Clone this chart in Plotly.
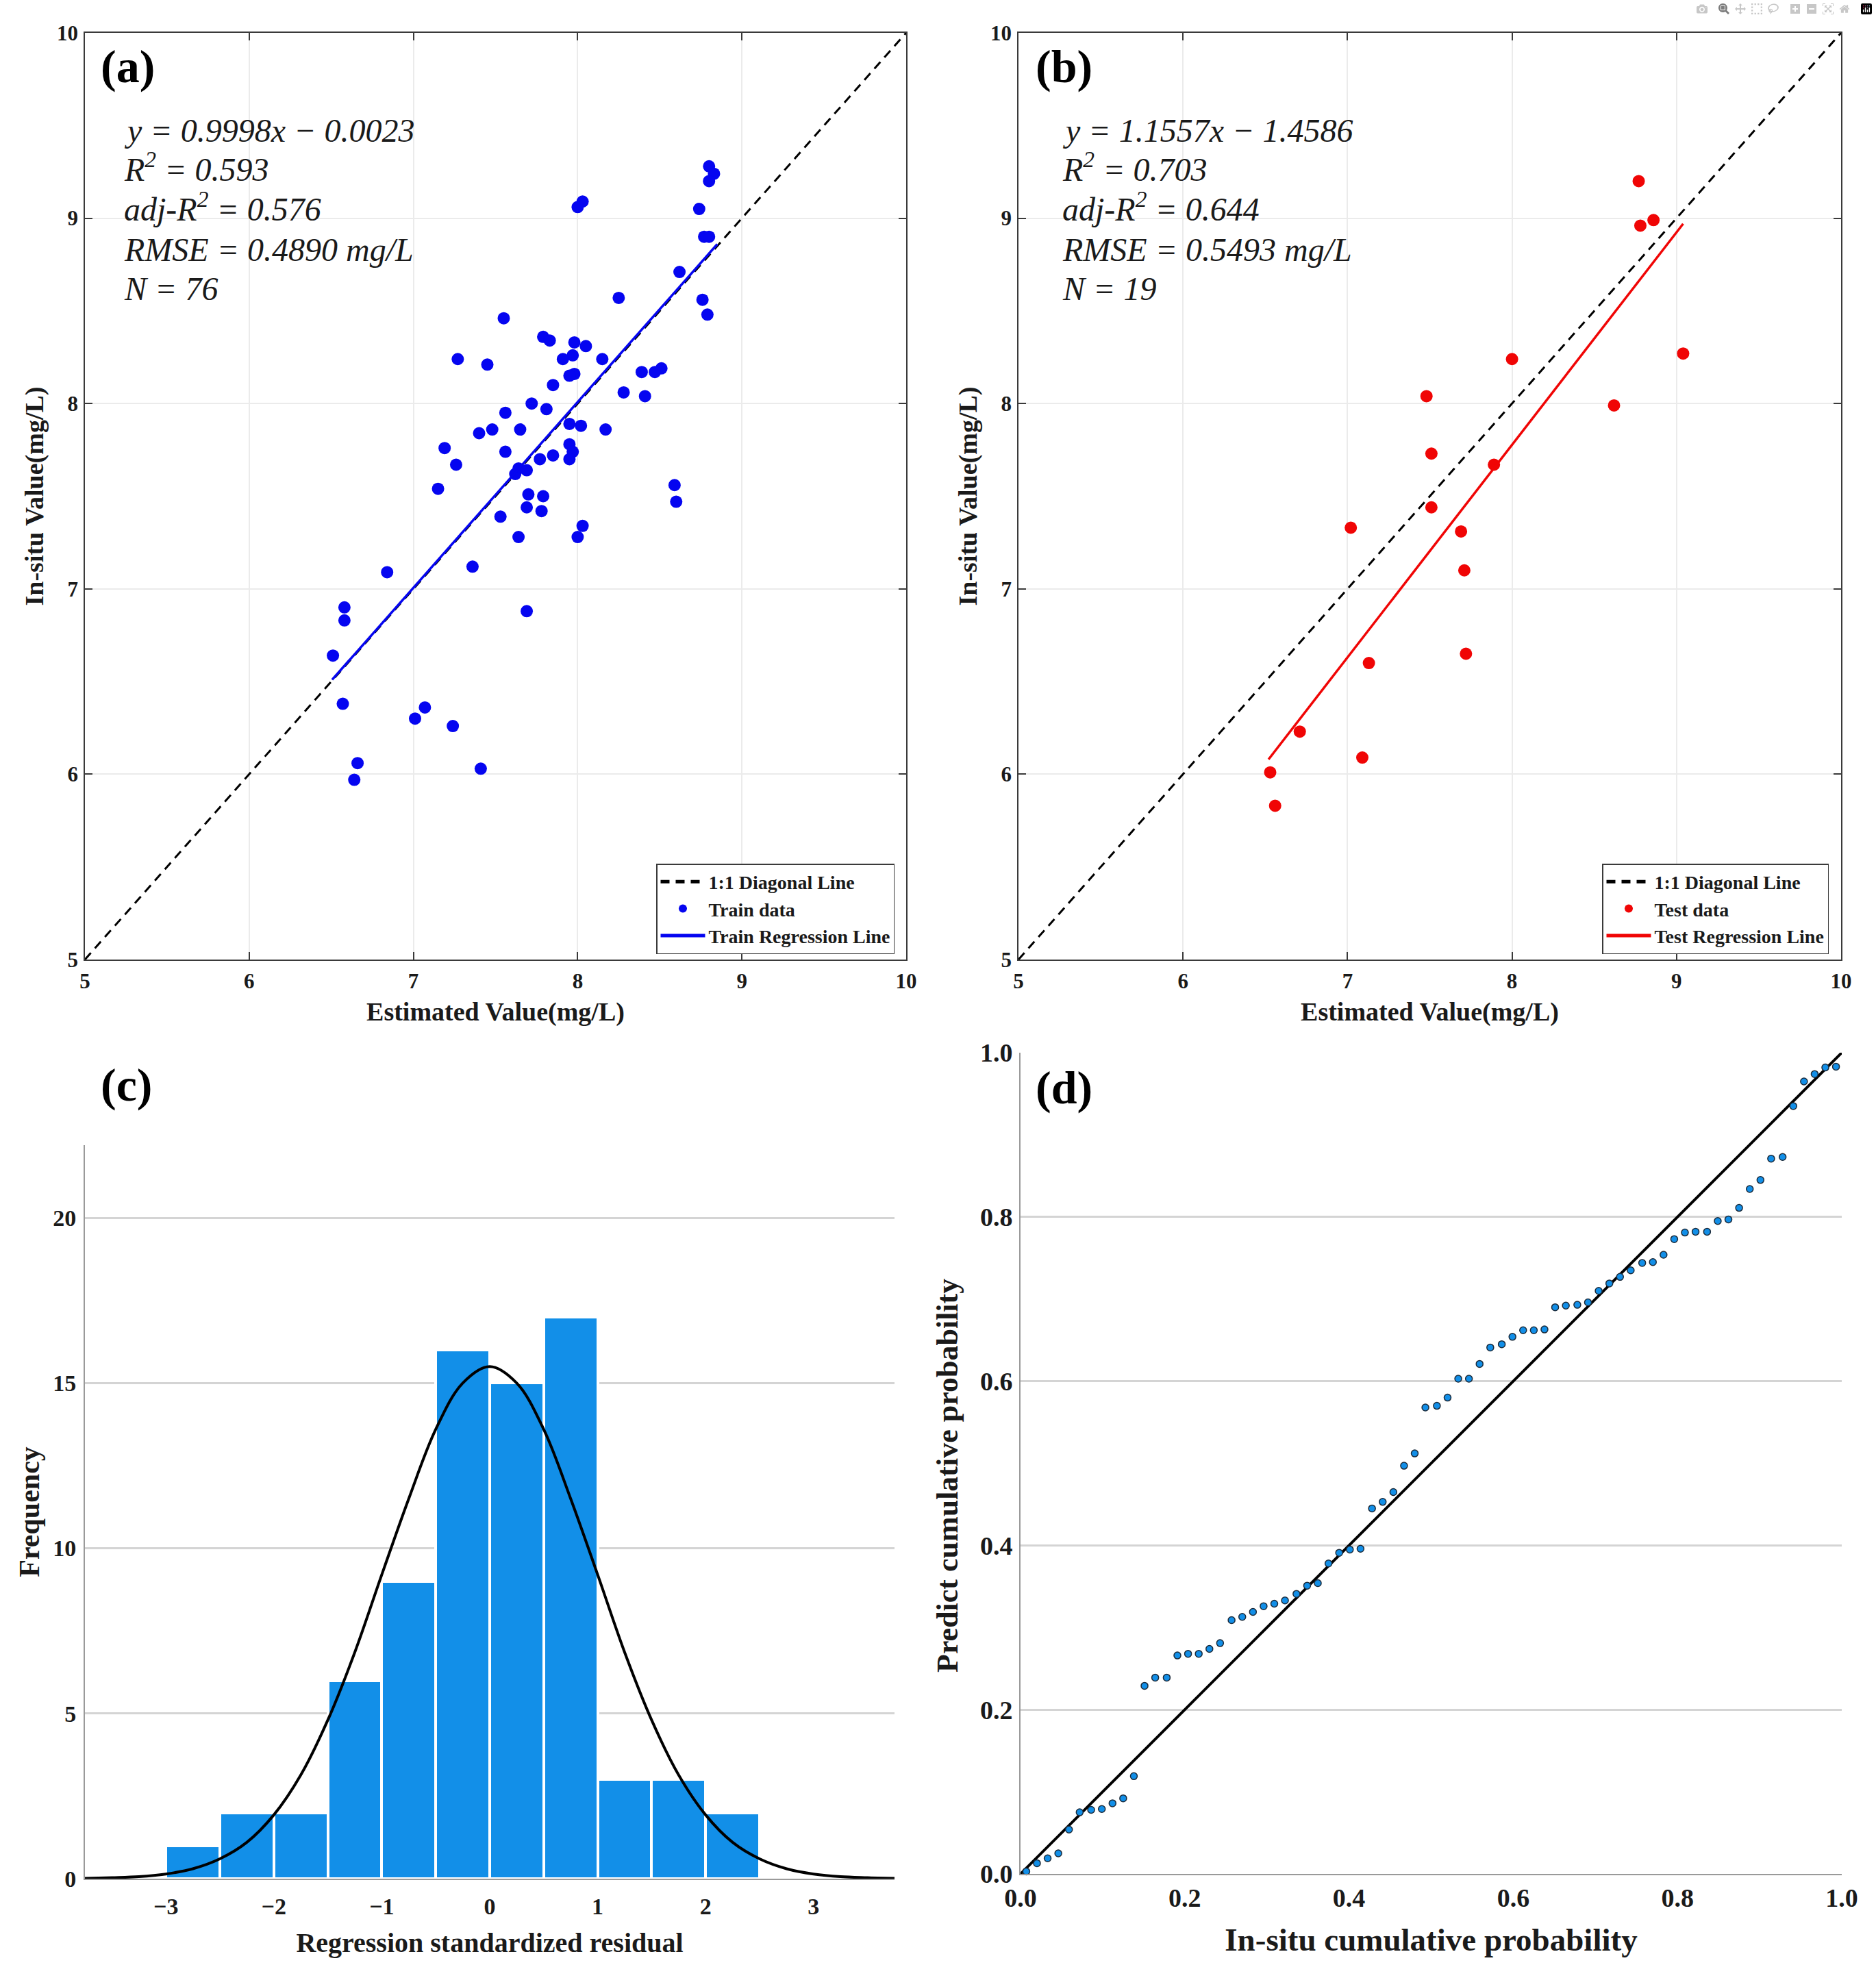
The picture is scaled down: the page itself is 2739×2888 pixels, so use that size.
import plotly.graph_objects as go

W, H = 2739, 2888

# Panel (a)
train_x = [8.80,8.83,8.80,8.74,8.03,8.00,8.77,8.80,8.62,8.76,8.25,8.79,7.55,7.79,7.83,7.98,8.05,7.97,7.91,7.27,8.15,7.45,8.51,8.47,8.39,7.98,7.95,7.85,8.28,8.41,7.72,7.81,7.56,7.95,8.02,7.65,7.48,8.17,7.40,7.95,7.97,7.19,7.56,7.85,7.77,7.95,7.26,7.64,7.69,7.62,7.15,8.59,7.70,7.79,8.60,7.69,7.78,7.53,8.03,7.64,8.00,7.36,6.84,6.58,7.69,6.58,6.51,6.57,7.07,7.01,7.24,6.66,7.41,6.64]
train_y = [9.28,9.24,9.20,9.05,9.09,9.06,8.90,8.90,8.71,8.56,8.57,8.48,8.46,8.36,8.34,8.33,8.31,8.26,8.24,8.24,8.24,8.21,8.19,8.17,8.17,8.16,8.15,8.10,8.06,8.04,8.00,7.97,7.95,7.89,7.88,7.86,7.86,7.86,7.84,7.78,7.74,7.76,7.74,7.72,7.70,7.70,7.67,7.65,7.64,7.62,7.54,7.56,7.51,7.50,7.47,7.44,7.42,7.39,7.34,7.28,7.28,7.12,7.09,6.90,6.88,6.83,6.64,6.38,6.36,6.30,6.26,6.06,6.03,5.97]
train_line_x = [6.505, 8.85]
train_line_y = [6.51, 8.86]
train_text = ["y = 0.9998x − 0.0023", "R<sup>2</sup> = 0.593", "adj-R<sup>2</sup> = 0.576", "RMSE = 0.4890 mg/L", "N = 76"]

# Panel (b)
test_x = [8.77,8.78,8.86,9.04,8.00,8.62,7.48,7.51,7.89,7.51,7.02,7.69,7.71,7.72,7.13,6.71,7.09,6.53,6.56]
test_y = [9.20,8.96,8.99,8.27,8.24,7.99,8.04,7.73,7.67,7.44,7.33,7.31,7.10,6.65,6.60,6.23,6.09,6.01,5.83]
test_line_x = [6.52, 9.04]
test_line_y = [6.08, 8.97]
test_text = ["y = 1.1557x − 1.4586", "R<sup>2</sup> = 0.703", "adj-R<sup>2</sup> = 0.644", "RMSE = 0.5493 mg/L", "N = 19"]

diag_x = [5, 10]
diag_y = [5, 10]

# Panel (c)
hist_centers = [-2.75,-2.25,-1.75,-1.25,-0.75,-0.25,0.25,0.75,1.25,1.75,2.25]
hist_counts = [1,2,2,6,9,16,15,17,3,3,2]
curve_x = [-3.75,-3.5,-3.25,-3,-2.75,-2.5,-2.25,-2,-1.75,-1.5,-1.25,-1,-0.75,-0.5,-0.25,0,0.25,0.5,0.75,1,1.25,1.5,1.75,2,2.25,2.5,2.75,3,3.25,3.5,3.75]
curve_y = [0.01,0.03,0.06,0.14,0.3,0.6,1.1,1.93,3.14,4.8,6.85,9.2,11.5,13.6,15.0,15.5,15.0,13.6,11.5,9.2,6.85,4.8,3.14,1.93,1.1,0.6,0.3,0.14,0.06,0.03,0.01]

# Panel (d)
pp_x = [0.007,0.020,0.033,0.046,0.059,0.072,0.086,0.099,0.112,0.125,0.138,0.151,0.164,0.178,0.191,0.204,0.217,0.230,0.243,0.257,0.270,0.283,0.296,0.309,0.322,0.336,0.349,0.362,0.375,0.388,0.401,0.414,0.428,0.441,0.454,0.467,0.480,0.493,0.507,0.520,0.533,0.546,0.559,0.572,0.586,0.599,0.612,0.625,0.638,0.651,0.664,0.678,0.691,0.704,0.717,0.730,0.743,0.757,0.770,0.783,0.796,0.809,0.822,0.836,0.849,0.862,0.875,0.888,0.901,0.914,0.928,0.941,0.954,0.967,0.980,0.993]
pp_y = [0.003,0.013,0.019,0.025,0.054,0.075,0.078,0.079,0.086,0.092,0.119,0.229,0.239,0.239,0.266,0.268,0.268,0.274,0.281,0.309,0.313,0.319,0.326,0.329,0.333,0.341,0.351,0.354,0.378,0.391,0.395,0.396,0.445,0.453,0.465,0.497,0.512,0.568,0.570,0.580,0.603,0.603,0.621,0.641,0.645,0.654,0.662,0.662,0.663,0.690,0.692,0.693,0.696,0.710,0.719,0.727,0.735,0.744,0.745,0.754,0.773,0.781,0.782,0.782,0.795,0.797,0.811,0.834,0.845,0.871,0.873,0.935,0.965,0.974,0.982,0.983]
pp_line_x = [0, 1]
pp_line_y = [0, 1]

SERIF = "Liberation Serif"
BOLD = dict(family=SERIF, color="#1a1a1a", weight="bold")

def dom_x(a, b):
    return [a / W, b / W]

def dom_y(top, bottom):
    return [1 - bottom / H, 1 - top / H]

def px(x):
    return x / W

def py(y):
    return 1 - y / H

fig = go.Figure()

# (a)
fig.add_trace(go.Scatter(x=diag_x, y=diag_y, mode="lines", name="1:1 Diagonal Line", xaxis="x", yaxis="y", legend="legend",
                         line=dict(color="black", width=3, dash="13px,9px")))
fig.add_trace(go.Scatter(x=train_x, y=train_y, mode="markers", name="Train data", xaxis="x", yaxis="y", legend="legend",
                         marker=dict(color="#0505f0", size=18)))
fig.add_trace(go.Scatter(x=train_line_x, y=train_line_y, mode="lines", name="Train Regression Line", xaxis="x", yaxis="y", legend="legend",
                         line=dict(color="#0505f0", width=3.5)))
# (b)
fig.add_trace(go.Scatter(x=diag_x, y=diag_y, mode="lines", name="1:1 Diagonal Line", xaxis="x2", yaxis="y2", legend="legend2",
                         line=dict(color="black", width=3, dash="13px,9px")))
fig.add_trace(go.Scatter(x=test_x, y=test_y, mode="markers", name="Test data", xaxis="x2", yaxis="y2", legend="legend2",
                         marker=dict(color="#f00505", size=18)))
fig.add_trace(go.Scatter(x=test_line_x, y=test_line_y, mode="lines", name="Test Regression Line", xaxis="x2", yaxis="y2", legend="legend2",
                         line=dict(color="#f00505", width=3.5)))
# (c)
fig.add_trace(go.Bar(x=hist_centers, y=hist_counts, width=0.5, xaxis="x3", yaxis="y3", showlegend=False,
                     marker=dict(color="#128fe8", line=dict(color="white", width=4))))
fig.add_trace(go.Scatter(x=curve_x, y=curve_y, mode="lines", xaxis="x3", yaxis="y3", showlegend=False,
                         line=dict(color="black", width=4, shape="spline")))
# (d)
fig.add_trace(go.Scatter(x=pp_line_x, y=pp_line_y, mode="lines", xaxis="x4", yaxis="y4", showlegend=False,
                         line=dict(color="black", width=4), cliponaxis=False))
fig.add_trace(go.Scatter(x=pp_x, y=pp_y, mode="markers", xaxis="x4", yaxis="y4", showlegend=False, cliponaxis=False,
                         marker=dict(color="#128fe8", size=10, line=dict(color="#1a2a3a", width=1.5))))

def scatter_axis(domain, anchor, title, standoff, label_gap):
    return dict(domain=domain, anchor=anchor, range=[5, 10], tickvals=[5, 6, 7, 8, 9, 10], automargin=False,
                showline=True, linecolor="#3a3a3a", linewidth=1.5, mirror="ticks",
                ticks="inside", ticklen=11, tickwidth=1.5, tickcolor="#3a3a3a",
                showgrid=True, gridcolor="#ebebeb", gridwidth=1.5, zeroline=False,
                tickfont=dict(size=31, **BOLD), ticklabelstandoff=label_gap,
                title=dict(text=title, font=dict(size=38, **BOLD), standoff=standoff))

legend_common = dict(bgcolor="white", bordercolor="#3a3a3a", borderwidth=1.5, xanchor="right", yanchor="middle",
                     font=dict(size=28, **BOLD), itemwidth=65, itemsizing="constant", tracegroupgap=0,
                     traceorder="normal", entrywidthmode="pixels")

fig.update_layout(
    width=W, height=H, margin=dict(l=0, r=0, t=0, b=0),
    paper_bgcolor="white", plot_bgcolor="white", bargap=0,
    font=dict(family=SERIF, color="#1a1a1a"),
    xaxis=scatter_axis(dom_x(124, 1323), "y", "Estimated Value(mg/L)", 14, 3),
    yaxis=scatter_axis(dom_y(48, 1401), "x", "In-situ Value(mg/L)", 8, 2),
    xaxis2=scatter_axis(dom_x(1487, 2688), "y2", "Estimated Value(mg/L)", 14, 3),
    yaxis2=scatter_axis(dom_y(48, 1401), "x2", "In-situ Value(mg/L)", 8, 2),
    xaxis3=dict(domain=dom_x(124, 1306), anchor="y3", range=[-3.75, 3.75], tickvals=[-3, -2, -1, 0, 1, 2, 3], automargin=False,
                showline=True, linecolor="#9a9a9a", linewidth=2, showgrid=False, zeroline=False, ticks="",
                tickfont=dict(size=34, **BOLD), ticklabelstandoff=9,
                title=dict(text="Regression standardized residual", font=dict(size=40, **BOLD), standoff=21)),
    yaxis3=dict(domain=dom_y(1672, 2743), anchor="x3", range=[0, 22.2], tickvals=[0, 5, 10, 15, 20], automargin=False,
                showline=True, linecolor="#9a9a9a", linewidth=2, showgrid=True, gridcolor="#d4d4d4", gridwidth=2.5,
                zeroline=False, ticks="", tickfont=dict(size=34, **BOLD), ticklabelstandoff=4,
                title=dict(text="Frequency", font=dict(size=42, **BOLD), standoff=7)),
    xaxis4=dict(domain=dom_x(1490, 2689), anchor="y4", range=[0, 1], tickvals=[0, 0.2, 0.4, 0.6, 0.8, 1.0], automargin=False,
                tickformat=".1f", showline=True, linecolor="#9a9a9a", linewidth=2, showgrid=False, zeroline=False,
                ticks="", tickfont=dict(size=38, **BOLD), ticklabelstandoff=0,
                title=dict(text="In-situ cumulative probability", font=dict(size=47, **BOLD), standoff=24)),
    yaxis4=dict(domain=dom_y(1537, 2736), anchor="x4", range=[0, 1], tickvals=[0, 0.2, 0.4, 0.6, 0.8, 1.0], automargin=False,
                tickformat=".1f", showline=True, linecolor="#9a9a9a", linewidth=2, showgrid=True, gridcolor="#d4d4d4",
                gridwidth=2.5, zeroline=False, ticks="", tickfont=dict(size=38, **BOLD), ticklabelstandoff=2),
    legend=dict(x=px(1306), y=py(1327), entrywidth=312, **legend_common),
    legend2=dict(x=px(2670), y=py(1327), entrywidth=272, **legend_common),
    shapes=[
        dict(type="rect", xref="paper", yref="paper", layer="between", x0=px(175), x1=px(612), y0=py(163), y1=py(464),
             fillcolor="white", line=dict(width=0)),
        dict(type="rect", xref="paper", yref="paper", layer="between", x0=px(1545), x1=px(1982), y0=py(163), y1=py(464),
             fillcolor="white", line=dict(width=0)),
    ],
)

annotations = [dict(text="Predict cumulative probability", xref="paper", yref="paper", x=px(1383), y=py(2155), showarrow=False,
                    textangle=-90, xanchor="center", yanchor="middle", font=dict(size=44, **BOLD))]
for label, x, y in [("(a)", 186, 97), ("(b)", 1553, 97), ("(c)", 184, 1584), ("(d)", 1553, 1588)]:
    annotations.append(dict(text=label, xref="paper", yref="paper", x=px(x), y=py(y), showarrow=False,
                            xanchor="center", yanchor="middle", font=dict(size=68, family=SERIF, color="black", weight="bold")))
for lines, left in [(train_text, 179), (test_text, 1549)]:
    for line, y in zip(lines, [191, 244, 302, 364, 421]):
        annotations.append(dict(text=line, xref="paper", yref="paper", x=px(left), y=py(y), showarrow=False,
                                xanchor="left", yanchor="middle",
                                font=dict(size=48, family=SERIF, color="#1a1a1a", style="italic")))
fig.update_layout(annotations=annotations)

fig.write_html("out.html", post_script="document.body.style.margin='0';")
